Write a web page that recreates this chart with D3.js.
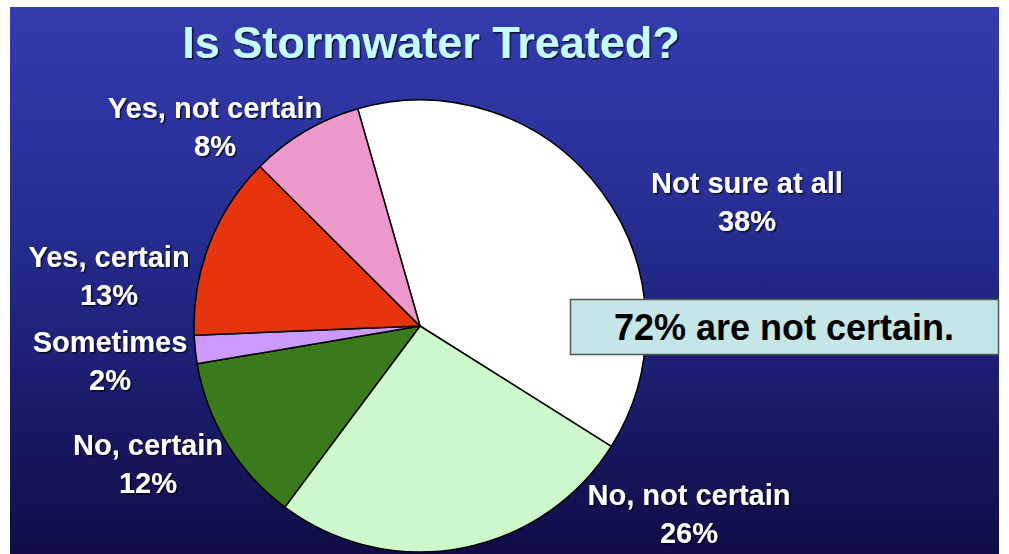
<!DOCTYPE html>
<html>
<head>
<meta charset="utf-8">
<script src="https://cdn.jsdelivr.net/npm/d3@7"></script>
<style>
  html, body { margin: 0; padding: 0; background: #fff; }
  svg { display: block; }
  text { font-family: "Liberation Sans", Arial, sans-serif; font-weight: bold; }
</style>
</head>
<body>
<svg id="chart" width="1009" height="554"></svg>
<script>
// slice data, clockwise from the top
var categories = ["Not sure at all", "No, not certain", "No, certain", "Sometimes", "Yes, certain", "Yes, not certain"];
var values = [38, 26, 12, 2, 13, 8];
var colors = ["#ffffff", "#ccf8cc", "#3a7a1c", "#cc99ff", "#e6340f", "#ee99cc"];
// where each label block sits (centre x, first baseline)
var labelPos = [[747, 193], [689, 505], [148, 455], [110, 352], [109, 267], [215, 118]];

var title = "Is Stormwater Treated?";
var note = "72% are not certain.";

var svg = d3.select("#chart");
var defs = svg.append("defs");

var grad = defs.append("linearGradient")
    .attr("id", "bg").attr("x1", 0).attr("y1", 0).attr("x2", 0).attr("y2", 1);
grad.append("stop").attr("offset", "0%").attr("stop-color", "#343cae");
grad.append("stop").attr("offset", "45%").attr("stop-color", "#242a8c");
grad.append("stop").attr("offset", "100%").attr("stop-color", "#0f0c44");

var shadow = defs.append("filter").attr("id", "shadow")
    .attr("x", "-10%").attr("y", "-20%").attr("width", "130%").attr("height", "150%");
shadow.append("feDropShadow")
    .attr("dx", 1.5).attr("dy", 1.5).attr("stdDeviation", 0.6)
    .attr("flood-color", "#000").attr("flood-opacity", 0.7);

// slide background
svg.append("rect")
    .attr("x", 10).attr("y", 7)
    .attr("width", 989).attr("height", 554)
    .attr("fill", "url(#bg)");

svg.append("text")
    .attr("x", 431).attr("y", 58)
    .attr("text-anchor", "middle")
    .attr("font-size", 45)
    .attr("fill", "#c6fdff")
    .attr("filter", "url(#shadow)")
    .text(title);

// pie
var cx = 420, cy = 326, r = 226;

var pie = d3.pie()
    .sort(null)
    .value(function (d) { return d; })
    .startAngle(-16 * Math.PI / 180)
    .endAngle(344 * Math.PI / 180);

var arc = d3.arc().innerRadius(0).outerRadius(r);

var g = svg.append("g").attr("transform", "translate(" + cx + "," + cy + ")");

g.selectAll("path")
    .data(pie(values))
    .enter().append("path")
    .attr("d", arc)
    .attr("fill", function (d, i) { return colors[i]; })
    .attr("stroke", "#000")
    .attr("stroke-width", 1.5)
    .attr("stroke-linejoin", "round");

// labels
var labels = svg.append("g")
    .attr("fill", "#fff")
    .attr("font-size", 29)
    .attr("text-anchor", "middle")
    .attr("filter", "url(#shadow)");

categories.forEach(function (c, i) {
    var t = labels.append("text")
        .attr("x", labelPos[i][0]).attr("y", labelPos[i][1]);
    t.append("tspan").attr("x", labelPos[i][0]).text(c);
    t.append("tspan").attr("x", labelPos[i][0]).attr("dy", 38).text(values[i] + "%");
});

// callout box
svg.append("rect")
    .attr("x", 570.5).attr("y", 299.5)
    .attr("width", 428).attr("height", 55)
    .attr("fill", "#c4e6e6")
    .attr("stroke", "#555")
    .attr("stroke-width", 1.5);

svg.append("text")
    .attr("x", 784).attr("y", 340)
    .attr("text-anchor", "middle")
    .attr("font-size", 36)
    .attr("fill", "#000")
    .text(note);
</script>
</body>
</html>
